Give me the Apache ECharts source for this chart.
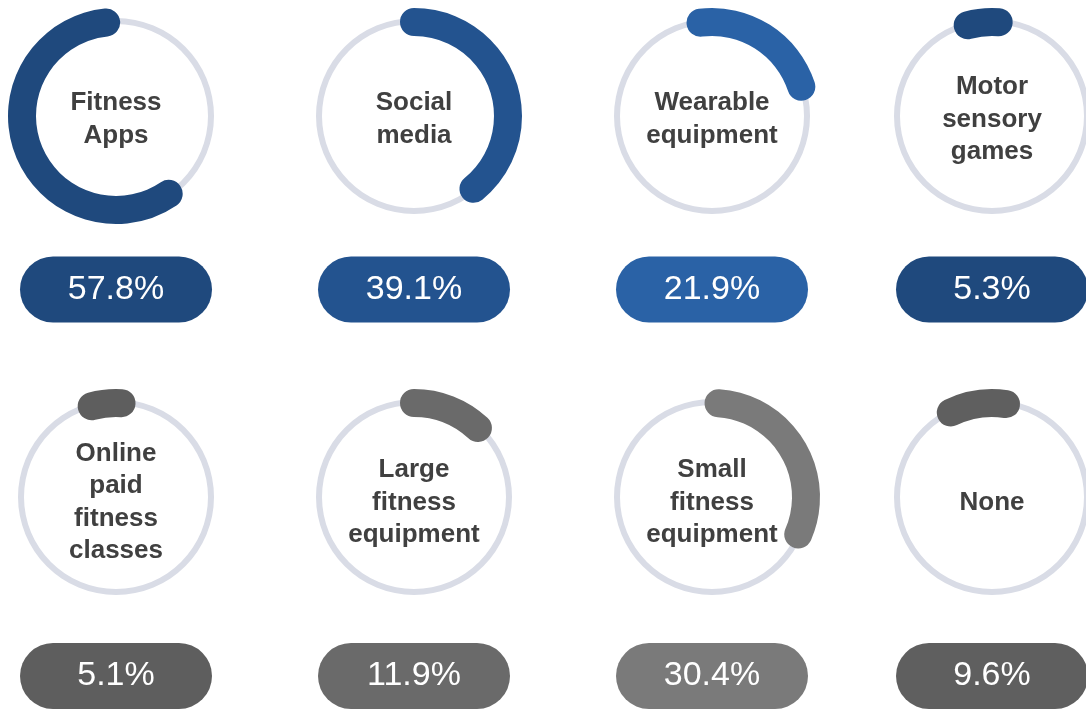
<!DOCTYPE html>
<html>
<head>
<meta charset="utf-8">
<style>
  html, body { margin: 0; padding: 0; background: #ffffff; }
  #chart { width: 1086px; height: 710px; }
</style>
<script src="https://cdn.jsdelivr.net/npm/echarts@6/dist/echarts.min.js"></script>
</head>
<body>
<div id="chart"></div>
<script>
// Fitness tools used (share of respondents, %)
const categories = [
  'Fitness\nApps', 'Social\nmedia', 'Wearable\nequipment', 'Motor\nsensory\ngames',
  'Online\npaid\nfitness\nclasses', 'Large\nfitness\nequipment', 'Small\nfitness\nequipment', 'None'
];
const shares = [57.8, 39.1, 21.9, 5.3, 5.1, 11.9, 30.4, 9.6];

// Styling per ring
const ringColors = ['#1f497d', '#23538f', '#2a62a6', '#1f497d', '#5e5e5e', '#6a6a6a', '#7a7a7a', '#5f5f5f'];
const arcStart   = [96, 90, 97, 105, 105, 90, 86, 116];
const arcClockwise = [false, true, true, true, true, true, true, true];
const colX = [116, 414, 712, 992];
const rowY = [116, 497];
const pillOffset = [173.5, 179];
const titleOffset = [3.5, 5.5];

const FONT = '"Liberation Sans", Arial, Helvetica, sans-serif';
const TRACK = '#d9dce6';

const series = [];
shares.forEach((v, i) => {
  const row = Math.floor(i / 4), col = i % 4;
  const center = [colX[col], rowY[row]];
  // thin background ring
  series.push({
    type: 'gauge',
    center: center,
    radius: 98,
    startAngle: 90,
    endAngle: -270,
    min: 0, max: 100,
    pointer: { show: false },
    anchor: { show: false },
    progress: { show: false },
    axisLine: { lineStyle: { width: 6, color: [[1, TRACK]] } },
    axisTick: { show: false },
    splitLine: { show: false },
    axisLabel: { show: false },
    title: { show: false },
    detail: { show: false },
    silent: true,
    data: [{ value: 0 }]
  });
  // thick value arc, category name and value pill
  const cw = arcClockwise[i];
  series.push({
    type: 'gauge',
    center: center,
    radius: 108,
    startAngle: arcStart[i],
    endAngle: cw ? arcStart[i] - 360 : arcStart[i] + 360,
    clockwise: cw,
    min: 0, max: 100,
    pointer: { show: false },
    anchor: { show: false },
    progress: {
      show: true,
      width: 28,
      roundCap: true,
      itemStyle: { color: ringColors[i] }
    },
    axisLine: { show: false, lineStyle: { width: 28, color: [[1, 'rgba(0,0,0,0)']] } },
    axisTick: { show: false },
    splitLine: { show: false },
    axisLabel: { show: false },
    title: {
      show: true,
      offsetCenter: [0, titleOffset[row]],
      color: '#404040',
      fontFamily: FONT,
      fontWeight: 'bold',
      fontSize: 26,
      lineHeight: 32.5
    },
    detail: {
      show: true,
      offsetCenter: [0, pillOffset[row]],
      formatter: (val) => val.toFixed(1) + '%',
      color: '#ffffff',
      fontFamily: FONT,
      fontWeight: 'normal',
      fontSize: 34,
      backgroundColor: ringColors[i],
      borderRadius: 33,
      width: 192,
      height: 66,
      lineHeight: 66,
      padding: 0,
      align: 'center'
    },
    data: [{ value: v, name: categories[i] }]
  });
});

const chart = echarts.init(document.getElementById('chart'), null, { renderer: 'canvas' });
chart.setOption({
  backgroundColor: '#ffffff',
  animation: false,
  series: series
});
</script>
</body>
</html>
